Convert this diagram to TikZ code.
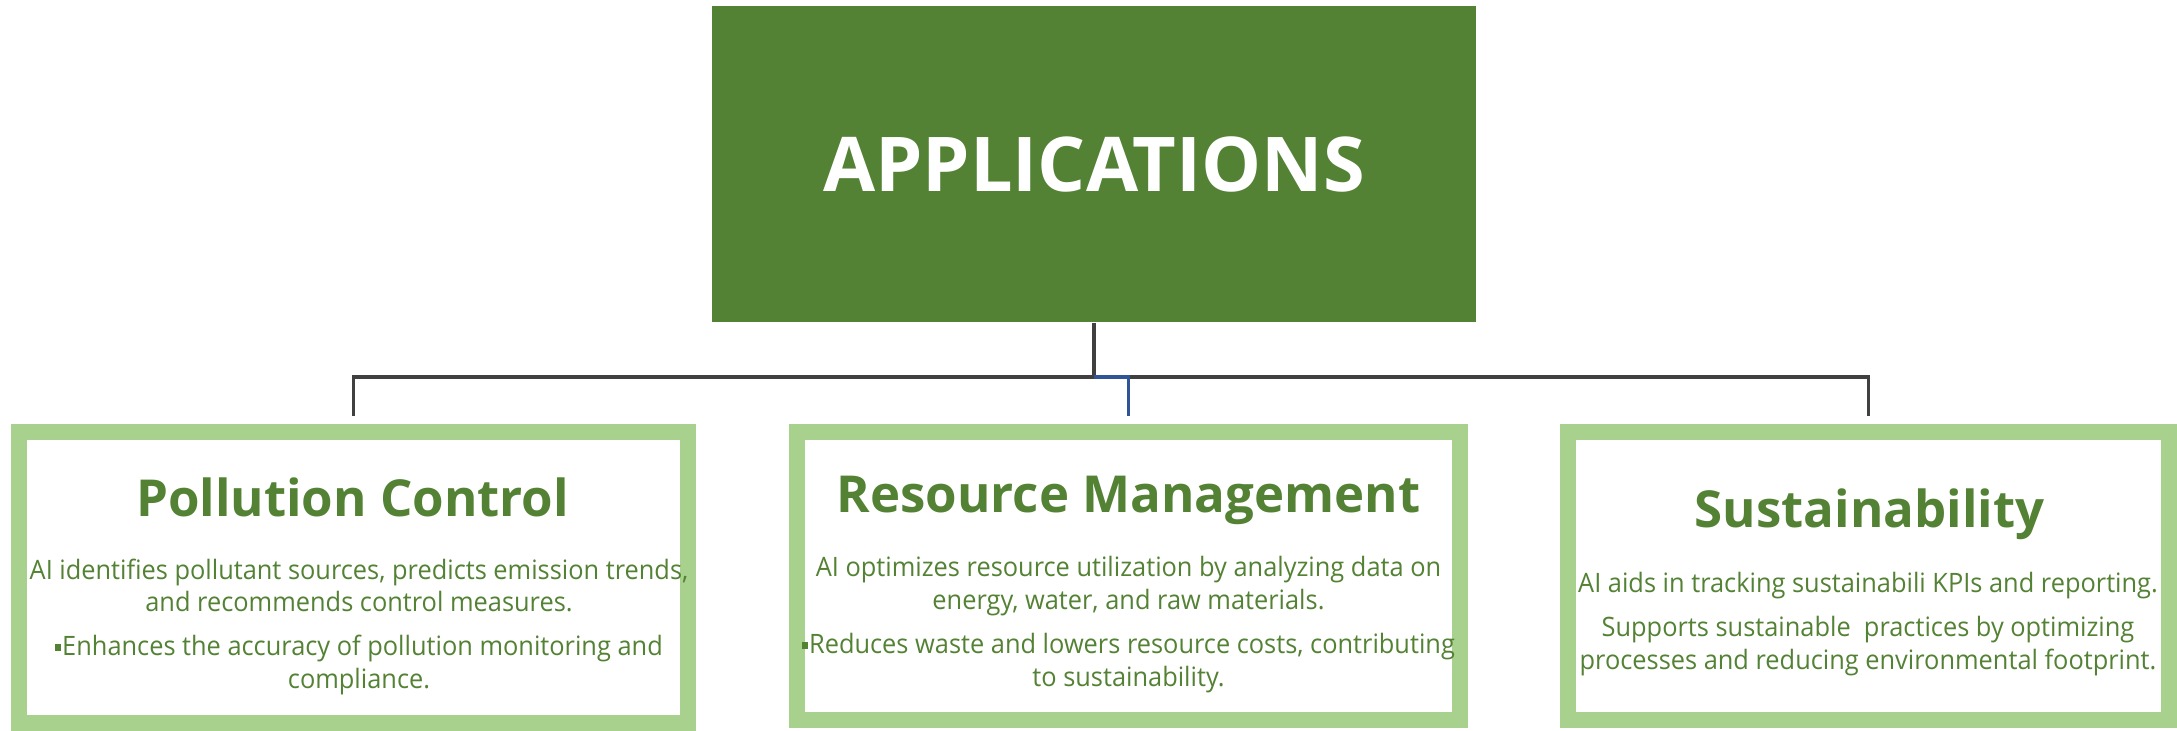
\documentclass[tikz,border=0pt]{standalone}
\usepackage{fontspec}
\setmainfont{Open Sans}
\newfontfamily\bodyfont{Open Sans}[FakeStretch=0.95]
\usetikzlibrary{positioning}
\definecolor{appgreen}{HTML}{548235}
\definecolor{boxgreen}{HTML}{A9D18E}
\definecolor{linegray}{HTML}{404040}
\definecolor{lineblue}{HTML}{2F5597}
\newcommand{\sqbullet}{\raisebox{1.4pt}{\rule{1.6pt}{2pt}}\kern0.4pt}

\begin{document}
\begin{tikzpicture}[x=0.1mm,y=-0.1mm,
    appbox/.style={draw=boxgreen,line width=1.6mm,fill=white,inner sep=0pt},
    apptitle/.style={text=appgreen,font=\fontsize{14.5}{17}\selectfont\bfseries,anchor=base,inner sep=0pt},
    apptext/.style={text=appgreen,font=\bodyfont\fontsize{7.6}{9.3}\selectfont,align=center,anchor=north,inner sep=0pt},
    link/.style={draw=linegray,line width=0.9pt,shorten >=0.8mm}]
  \useasboundingbox (0,0) rectangle (2177,731);
  \node[fill=appgreen,minimum width=76.4mm,minimum height=31.6mm,inner sep=0pt,
        text=white,font=\fontsize{21.5}{25}\selectfont\bfseries] (apps) at (1094,164) {APPLICATIONS};
  \node[appbox,minimum width=66.9mm,minimum height=29.1mm] (pollution) at (353.5,577.5) {};
  \node[appbox,minimum width=66.3mm,minimum height=28.8mm] (resource) at (1128.5,576) {};
  \node[appbox,minimum width=60.1mm,minimum height=28.8mm] (sustain) at (1868.5,576) {};
  \coordinate (split) at (1094,377);
  \draw[link,shorten >=0pt] (apps.south) -- (split);
  \draw[link] (split) -| (pollution.north);
  \draw[link] (split) -| (sustain.north);
  \draw[link,draw=lineblue] (split) -| (resource.north);
  \node[apptitle] (pollutiontitle) at (352.5,517) {Pollution Control};
  \node[apptext] (pollutiontext) at (359,558) {AI identifies pollutant sources, predicts emission trends,\\
    and recommends control measures.\\[3.2pt]
    \sqbullet Enhances the accuracy of pollution monitoring and\\ compliance.};
  \node[apptitle] (resourcetitle) at (1128.5,513) {Resource Management};
  \node[apptext] (resourcetext) at (1128.5,556) {AI optimizes resource utilization by analyzing data on\\
    energy, water, and raw materials.\\[3.2pt]
    \sqbullet Reduces waste and lowers resource costs, contributing\\ to sustainability.};
  \node[apptitle] (sustaintitle) at (1869.5,528) {Sustainability};
  \node[apptext] (sustaintext) at (1868,572) {AI aids in tracking sustainabili KPIs and reporting.\\[3.2pt]
    Supports sustainable\ \ practices by optimizing\\
    processes and reducing environmental footprint.};
\end{tikzpicture}
\end{document}
